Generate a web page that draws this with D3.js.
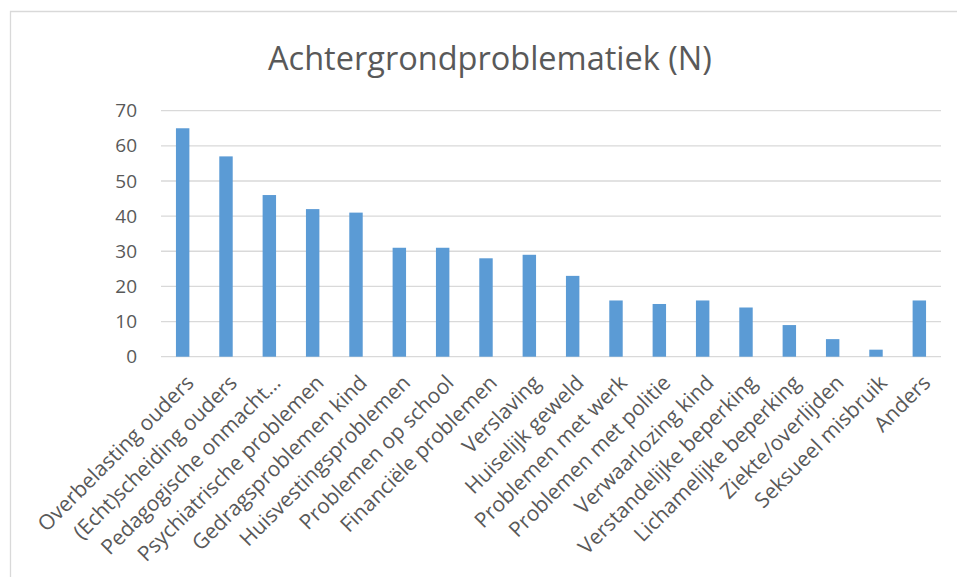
<!DOCTYPE html>
<html lang="nl">
<head>
<meta charset="UTF-8" />
<title>Achtergrondproblematiek (N)</title>
<style>
    body { margin: 0; background: #fff; }
    svg text { font-family: "Open Sans", sans-serif; fill: #595959; }
    .grid line { stroke: #d9d9d9; stroke-width: 1.3px; }
</style>
</head>
<body>
<div id="chart"></div>
<script src="https://d3js.org/d3.v7.min.js"></script>
<script>
    const categories = [
        'Overbelasting ouders', '(Echt)scheiding ouders', 'Pedagogische onmacht…',
        'Psychiatrische problemen', 'Gedragsproblemen kind', 'Huisvestingsproblemen',
        'Problemen op school', 'Financiële problemen', 'Verslaving', 'Huiselijk geweld',
        'Problemen met werk', 'Problemen met politie', 'Verwaarlozing kind',
        'Verstandelijke beperking', 'Lichamelijke beperking', 'Ziekte/overlijden',
        'Seksueel misbruik', 'Anders'
    ];
    const values = [65, 57, 46, 42, 41, 31, 31, 28, 29, 23, 16, 15, 16, 14, 9, 5, 2, 16];
    const yTicks = [0, 10, 20, 30, 40, 50, 60, 70];

    const width = 957, height = 577;
    const plot = { left: 161, right: 941, top: 110.7, bottom: 356.7 };

    const svg = d3.select('#chart').append('svg')
        .attr('width', width)
        .attr('height', height);

    // frame (only top and left edges visible in the crop)
    svg.append('path')
        .attr('d', `M10.5,${height} V11.5 H${width}`)
        .attr('fill', 'none')
        .attr('stroke', '#d9d9d9')
        .attr('stroke-width', 1.3);

    svg.append('text')
        .attr('x', 490)
        .attr('y', 70)
        .attr('text-anchor', 'middle')
        .style('font-size', '32.5px')
        .text('Achtergrondproblematiek (N)');

    const x = d3.scaleBand()
        .domain(categories)
        .range([plot.left, plot.right])
        .paddingInner(0.69)
        .paddingOuter(0.345);

    const y = d3.scaleLinear()
        .domain([0, 70])
        .range([plot.bottom, plot.top]);

    svg.append('g')
        .attr('class', 'grid')
        .selectAll('line')
        .data(yTicks)
        .join('line')
        .attr('x1', plot.left)
        .attr('x2', plot.right)
        .attr('y1', d => y(d))
        .attr('y2', d => y(d));

    svg.append('g')
        .selectAll('text')
        .data(yTicks)
        .join('text')
        .attr('x', 137)
        .attr('y', d => y(d))
        .attr('dy', '0.35em')
        .attr('text-anchor', 'end')
        .style('font-size', '19px')
        .text(d => d);

    svg.append('g')
        .selectAll('rect')
        .data(values)
        .join('rect')
        .attr('x', (d, i) => x(categories[i]))
        .attr('y', d => y(d))
        .attr('width', x.bandwidth())
        .attr('height', d => y(0) - y(d))
        .attr('fill', '#5b9bd5');

    svg.append('g')
        .selectAll('text')
        .data(categories)
        .join('text')
        .attr('transform', d => `translate(${x(d) + x.bandwidth() / 2 + 2},${plot.bottom + 17}) rotate(-45)`)
        .attr('text-anchor', 'end')
        .attr('dy', '0.7em')
        .style('font-size', '21px')
        .text(d => d);
</script>
</body>
</html>
